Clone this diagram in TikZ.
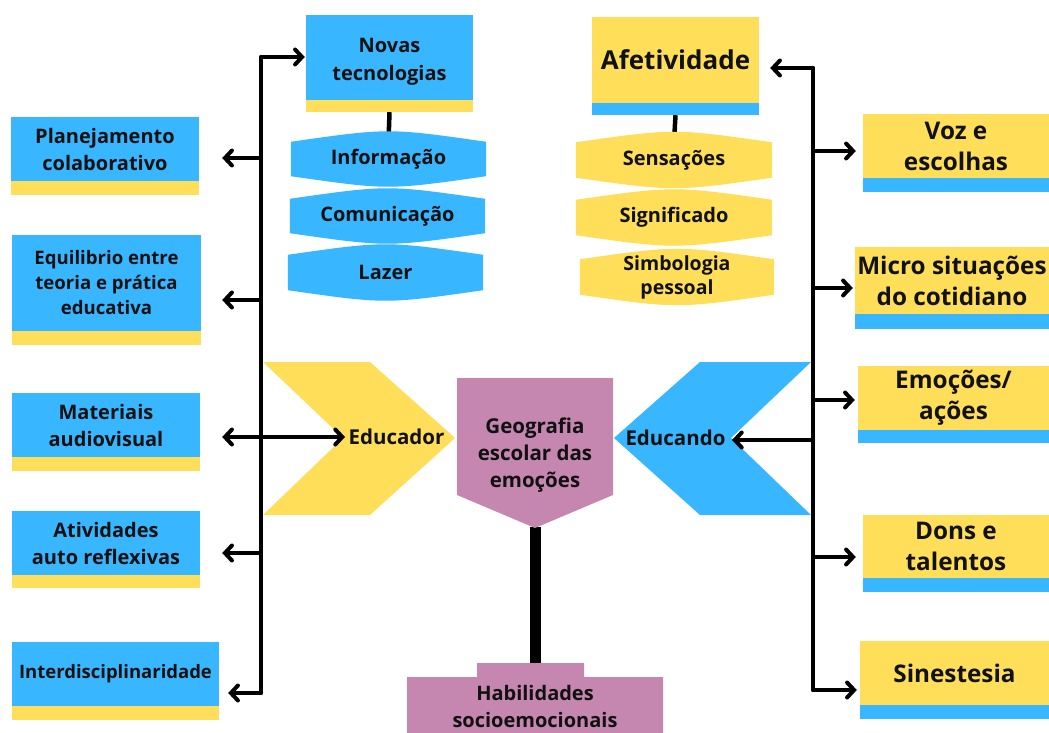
\documentclass[tikz,border=0pt]{standalone}
\usepackage{fontspec}
\setmainfont{Open Sans}
\usetikzlibrary{arrows.meta,backgrounds,calc}
\definecolor{blu}{HTML}{38B6FF}
\definecolor{ylw}{HTML}{FFDE59}
\definecolor{pnk}{HTML}{C587B0}
\definecolor{ink}{HTML}{111111}
\begin{document}
\begin{tikzpicture}[x=1pt,y=-1pt,
  every node/.style={text=ink, align=center, inner sep=0pt},
  ltxt/.style={font=\bfseries\fontsize{20}{27}\selectfont},
  rtxt/.style={font=\bfseries\fontsize{24.3}{31}\selectfont},
  mtxt/.style={font=\bfseries\fontsize{20}{27}\selectfont},
  sbox/.style args={#1/#2/#3}{fill=#1, minimum width=#2, minimum height=#3},
  lens/.style args={#1/#2}{minimum width=#1, minimum height=#2},
  trunk/.style={line width=4pt, line cap=round},
  arr/.style={line width=4pt, line cap=round, -{Straight Barb[length=7pt,width=15pt,line cap=round]}},
  link/.style={line width=4.5pt},
]
\useasboundingbox (0,0) rectangle (1049,733);

% ---------- top boxes ----------
\node[sbox=blu/167pt/85pt, label={[font=\bfseries\fontsize{20}{28}\selectfont, align=center, yshift=-4pt]center:Novas\\tecnologias}] (novas) at (389.5,57.5) {};
\node[sbox=ylw/167pt/86pt, font=\bfseries\fontsize{26}{32}\selectfont] (afet) at (675.5,60) {Afetividade};

% ---------- lenses ----------
\node[lens=195pt/34pt, mtxt] (info) at (388.5,159) {Informação};
\node[lens=195pt/34pt, mtxt] (comu) at (387.5,216) {Comunicação};
\node[lens=195pt/35pt, mtxt] (lazer) at (385.5,272.5) {Lazer};
\node[lens=196pt/35pt, mtxt] (sens) at (674,160) {Sensações};
\node[lens=196pt/35pt, mtxt] (sig) at (674,217.5) {Significado};
\node[lens=194pt/35pt, label={[font=\bfseries\fontsize{19.5}{24}\selectfont, align=center]center:Simbologia\\pessoal}] (simb) at (677,277) {};

% ---------- left boxes ----------
\node[sbox=blu/188pt/64pt, ltxt] (plan) at (105,149) {Planejamento\\colaborativo};
\node[sbox=blu/189pt/97pt, font=\bfseries\fontsize{18.6}{25}\selectfont] (equi) at (106.5,283) {Equilibrio entre\\teoria e prática\\educativa};
\node[sbox=blu/188pt/64pt, ltxt] (mat) at (106,425) {Materiais\\audiovisual};
\node[sbox=blu/188pt/64pt, ltxt] (ativ) at (106,543) {Atividades\\auto reflexivas};
\node[sbox=blu/207pt/64pt, font=\bfseries\fontsize{18.5}{22}\selectfont] (inter) at (115.5,674) {Interdisciplinaridade};

% ---------- right boxes ----------
\node[sbox=ylw/186pt/64pt, rtxt] (voz) at (956,146) {Voz e\\escolhas};
\node[sbox=ylw/194pt/67pt, rtxt] (micro) at (952,280.5) {Micro situações\\do cotidiano};
\node[sbox=ylw/191pt/64pt, rtxt] (emo) at (953.5,398) {Emoções/\\ações};
\node[sbox=ylw/186pt/63pt, rtxt] (dons) at (956,546.5) {Dons e\\talentos};
\node[sbox=ylw/189pt/64pt, rtxt] (sin) at (954.5,673) {Sinestesia};

% strips
\foreach \n/\c/\h in {novas/ylw/12, afet/blu/12, plan/ylw/14, equi/ylw/13, mat/ylw/14, ativ/ylw/13, inter/ylw/14,
  voz/blu/14, micro/blu/15, emo/blu/13, dons/blu/14, sin/blu/14}
  \fill[\c] ([yshift=0.5pt]\n.south west) rectangle ([yshift=-\h pt]\n.south east);

% ---------- centre ----------
\node[font=\bfseries\fontsize{20.5}{27}\selectfont] (educador) at (396.5,437) {Educador};
\node[font=\bfseries\fontsize{20.5}{27}\selectfont] (educando) at (675.5,438) {Educando};
\node[font=\bfseries\fontsize{20.5}{27}\selectfont] (geo) at (535,455) {Geografia\\escolar das\\emoções};
\node[mtxt] (hab) at (535,706) {Habilidades\\socioemocionais};
\coordinate (geotip) at (535,527);
\coordinate (habtop) at (535,664);
\coordinate (edrnotch) at (345,437);
\coordinate (edonotch) at (732,440);

\begin{scope}[on background layer]
  \draw[link] ([yshift=-12pt]novas.south) -- (info.north);
  \draw[link] ([yshift=-12pt]afet.south) -- (sens.north);
  \draw[line width=11pt] (geotip) -- (habtop);
  \foreach \n/\c in {info/blu, comu/blu, lazer/blu, sens/ylw, sig/ylw, simb/ylw}
    \fill[\c] (\n.north west) .. controls ([yshift=14pt]\n.north) .. (\n.north east)
      -- (\n.south east) .. controls ([yshift=-14pt]\n.south) .. (\n.south west) -- cycle;
  % chevrons
  \fill[ylw] (263,362) -- (370,362) -- (455,438) -- (370,515) -- (263,515) -- (343,438) -- cycle;
  \fill[blu] (811,362) -- (700,362) -- (614,438) -- (700,515) -- (811,515) -- (731,438) -- cycle;
  % pentagon
  \fill[pnk] (457,378) -- (613,378) -- (613,495) -- (535,528) -- (457,495) -- cycle;
  % habilidades
  \fill[pnk] (477,663) -- (584,663) -- (584,677) -- (663,677) -- (663,740) -- (407,740) -- (407,677) -- (477,677) -- cycle;
\end{scope}

% ---------- left trunk ----------
\coordinate (L0) at (261,57);
\coordinate (L1) at (261,158);
\coordinate (L2) at (261,300);
\coordinate (L3) at (261,437);
\coordinate (L4) at (261,553);
\coordinate (L5) at (261,693);
\draw[trunk] (L0) -- (L5);
\draw[arr, shorten >=1pt] (L0) -- (L0 -| novas.west);
\draw[arr, shorten >=23pt] (L1) -- (L1 -| plan.east);
\draw[arr, shorten >=21pt] (L2) -- (L2 -| equi.east);
\draw[arr, shorten >=22pt] (L3) -- (L3 -| mat.east);
\draw[arr, shorten >=22pt] (L4) -- (L4 -| ativ.east);
\draw[arr, shorten >=9pt] (L5) -- (L5 -| inter.east);
\draw[arr] (L3) -- (edrnotch);

% ---------- right trunk ----------
\coordinate (R0) at (813,68);
\coordinate (R1) at (813,151);
\coordinate (R2) at (813,288);
\coordinate (R3) at (813,400);
\coordinate (R4) at (813,557);
\coordinate (R5) at (813,690);
\coordinate (R6) at (813,440);
\draw[trunk] (R0) -- (R5);
\draw[arr, shorten >=11pt] (R0) -- (R0 -| afet.east);
\draw[arr, shorten >=7pt] (R1) -- (R1 -| voz.west);
\draw[arr, shorten >=2pt] (R2) -- (R2 -| micro.west);
\draw[arr, shorten >=3pt] (R3) -- (R3 -| emo.west);
\draw[arr, shorten >=7pt] (R4) -- (R4 -| dons.west);
\draw[arr, shorten >=3pt] (R5) -- (R5 -| sin.west);
\draw[arr] (R6) -- (edonotch);
\end{tikzpicture}
\end{document}
